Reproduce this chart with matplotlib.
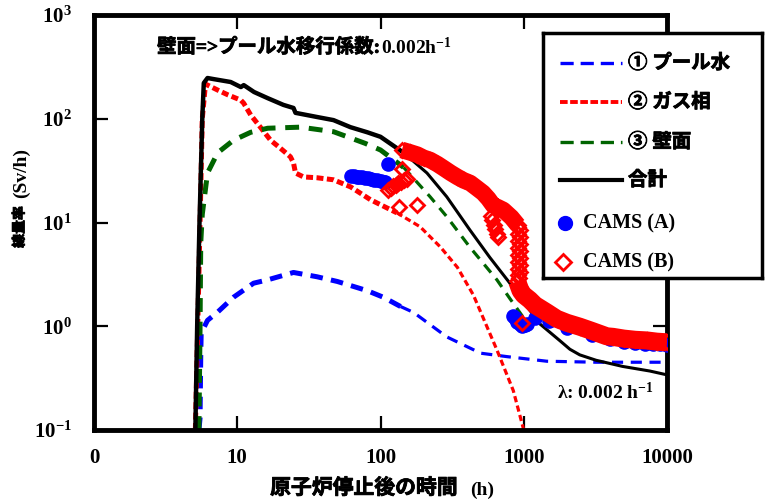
import numpy as np
import matplotlib
matplotlib.use('Agg')
import matplotlib.pyplot as plt
import matplotlib.patheffects as pe

plt.rcParams['font.family'] = ['Liberation Serif', 'Noto Sans CJK JP']
plt.rcParams['font.weight'] = 'bold'
plt.rcParams['mathtext.fontset'] = 'custom'
plt.rcParams['mathtext.rm'] = 'Liberation Serif:bold'
plt.rcParams['mathtext.bf'] = 'Liberation Serif:bold'
plt.rcParams['mathtext.it'] = 'Liberation Serif:bold:italic'
plt.rcParams['mathtext.default'] = 'rm'
plt.rcParams['lines.scale_dashes'] = False

# 計算値 (時間 h, 線量率 Sv/h)
t_pool = [5.4, 5.5, 5.56, 5.6, 6.2, 7.3, 9.4, 13.0, 16.3, 24.7, 36, 50, 81, 105, 138, 170, 290, 500, 760, 1450, 3200, 10000]
d_pool = [0.1, 0.13, 0.5, 0.86, 1.14, 1.37, 1.9, 2.6, 2.8, 3.3, 3.0, 2.7, 2.2, 1.9, 1.55, 1.36, 0.79, 0.55, 0.51, 0.46, 0.45, 0.45]

t_gas = [5.1, 5.3, 5.5, 5.7, 6.0, 7.3, 8.6, 10.6, 11.1, 12.4, 14.5, 17.1, 20, 23.5, 24.7, 25.5, 29, 36, 47, 62, 85, 130, 189, 262, 344, 445, 650, 845, 1000]
d_gas = [0.1, 1, 10, 100, 216, 189, 170, 151, 141, 109, 83, 62, 52, 43, 37.5, 30, 27.5, 27, 25.8, 22, 16.6, 12.4, 9.1, 5.8, 3.7, 2.0, 0.59, 0.24, 0.1]

t_wall = [5.4, 5.5, 5.56, 5.7, 6.2, 7.3, 9.4, 12.4, 16.3, 27.7, 47, 78, 100, 145, 222, 290, 420, 650, 800, 1000]
d_wall = [0.1, 1, 6.3, 12, 30, 47, 62, 74, 81, 83, 75, 58, 50, 34, 17.7, 11.4, 5.8, 2.8, 1.85, 1.2]

t_total = [5.1, 5.25, 5.45, 5.7, 5.84, 6.2, 6.85, 9.0, 10.6, 11.1, 13.1, 16.3, 21, 24.7, 25.5, 36, 47, 61.6, 81, 100,
           145, 211, 290, 420, 580, 800, 1100, 1300, 1800, 2100, 2460, 3200, 4900, 7600, 10000]
d_total = [0.1, 1, 10, 100, 221, 247, 241, 226, 202, 211, 181, 158, 136, 127, 114, 104, 97, 83, 74, 67,
           47, 30, 17.7, 8.5, 4.6, 2.6, 1.43, 1.05, 0.72, 0.6, 0.53, 0.47, 0.41, 0.37, 0.34]

# 測定値 CAMS (A)
camsA_t = [62, 65, 68, 71, 74, 78, 82, 86, 90, 95, 100, 105, 108, 112,
           840, 870, 900, 940, 980, 1020, 1060, 1200, 1500, 2000, 3000, 4000, 5000, 6000, 7000, 8000, 9000, 10000]
camsA_d = [28.0, 27.8, 27.6, 27.4, 27.2, 27.0, 26.6, 26.2, 25.8, 25.4, 25.0, 24.6, 24.4, 37,
           1.26, 1.2, 1.1, 1.05, 1.0, 1.02, 1.05, 1.2, 1.12, 0.96, 0.82, 0.75, 0.71, 0.69, 0.68, 0.67, 0.67, 0.66]

# 測定値 CAMS (B)
camsB_t = [113, 118, 123, 128, 133, 138, 145, 153, 141, 135, 181, 980]
camsB_d = [20.6, 21.5, 22.5, 23.2, 23.8, 24.5, 25.5, 26, 32.5, 14.1, 14.7, 1.08]
colB_t = [915, 945, 915, 945, 915, 945, 915, 945, 915, 945, 915, 945, 915, 945, 915, 930]
colB_d = [9.0, 8.4, 7.8, 7.2, 6.7, 6.2, 5.7, 5.3, 4.9, 4.5, 4.2, 3.9, 3.6, 3.35, 3.1, 2.9]
spurB_t = [590, 605, 620, 635, 650, 660]
spurB_d = [11.5, 10.5, 9.5, 8.6, 7.8, 7.2]
bandB1_t = [141, 160, 181, 200, 222, 250, 275, 310, 344, 380, 423, 470, 520, 565, 610, 660, 720, 820, 910]
bandB1_d = [50, 47.5, 45, 42, 40, 36.5, 33.5, 30, 27.5, 25.5, 24, 21.5, 19.3, 17, 14.7, 14, 13.2, 11.2, 9.4]
bandB2_t = [900, 950, 1000, 1100, 1200, 1450, 1700, 2000, 2460, 3000, 3800, 4200, 5000, 6000, 7200, 8500, 10000]
bandB2_d = [2.7, 2.2, 2.0, 1.8, 1.6, 1.36, 1.18, 1.08, 0.99, 0.9, 0.8, 0.79, 0.76, 0.74, 0.73, 0.71, 0.70]

xtick_vals = [1, 10, 100, 1000, 10000]
xtick_labels = ['0', '10', '100', '1000', '10000']
ytick_vals = [0.1, 1, 10, 100, 1000]
ytick_labels = [r'$10^{-1}$', r'$10^{0}$', r'$10^{1}$', r'$10^{2}$', r'$10^{3}$']

BLUE = '#0000ff'
RED = '#ff0000'
GREEN = '#006400'
heavy = [pe.withStroke(linewidth=0.6, foreground='black')]

W, H = 765, 499
fig = plt.figure(figsize=(W / 100, H / 100), dpi=100)
ax = fig.add_axes([94 / W, 1 - 430 / H, 573 / W, 415 / H])
ax.set_xscale('log')
ax.set_yscale('log')


def draw(t, d, color, dash_thick, dash_thin, split=120):
    t = np.array(t)
    d = np.array(d)
    i = np.searchsorted(t, split)
    kw = dict(color=color, zorder=2)
    if dash_thick is None:
        ax.plot(t[:i + 1], d[:i + 1], lw=3.2, **kw)
        ax.plot(t[i:], d[i:], lw=2.2, **kw)
    else:
        ax.plot(t[:i + 1], d[:i + 1], lw=3.6, dashes=dash_thick, **kw)
        ax.plot(t[i:], d[i:], lw=2.3, dashes=dash_thin, **kw)


draw(t_pool, d_pool, BLUE, (9, 6), (8, 5.5))
draw(t_gas, d_gas, RED, (5, 2.5), (4.5, 2.5))
draw(t_wall, d_wall, GREEN, (10, 7), (7.5, 5.5))
draw(t_total, d_total, 'black', None, None)

ax.plot(camsA_t, camsA_d, 'o', color=BLUE, ms=9.5, mec=BLUE, zorder=3)
ax.plot(bandB1_t, bandB1_d, '-', color=RED, lw=12, solid_capstyle='butt', zorder=4)
ax.plot(bandB2_t, bandB2_d, '-', color=RED, lw=13, solid_capstyle='butt', zorder=4)
for tt, dd in [(bandB1_t, bandB1_d), (bandB2_t, bandB2_d), (spurB_t, spurB_d),
               (colB_t, colB_d), (camsB_t, camsB_d)]:
    ax.plot(tt, dd, 'D', ms=7.5, mfc='none', mec=RED, mew=2, zorder=4)

ax.set_xlim(1, 10000)
ax.set_ylim(0.1, 1000)
ax.set_xticks(xtick_vals)
ax.set_xticklabels(xtick_labels)
ax.set_yticks(ytick_vals)
ax.set_yticklabels(ytick_labels)
ax.minorticks_off()
ax.tick_params(axis='both', which='major', direction='in', length=10, width=1.6,
               top=True, right=True, labelsize=15)
ax.tick_params(axis='x', pad=13)
ax.tick_params(axis='y', pad=16)
for s in ax.spines.values():
    s.set_linewidth(3.5)

# 軸ラベル
fig.text(458 / W, 1 - 489 / H, '原子炉停止後の時間', fontsize=15, va='center', ha='right',
         path_effects=heavy)
fig.text(470 / W, 1 - 490 / H, '(h)', fontsize=14, va='center', ha='left')
fig.text(20 / W, 1 - 227 / H, '線量率', fontsize=10, rotation=90, va='center', ha='center',
         path_effects=heavy)
fig.text(21 / W, 1 - 173 / H, '(Sv/h)', fontsize=14, rotation=90, va='center', ha='center')

t1 = fig.text(157 / W, 1 - 47 / H, '壁面=>プール水移行係数:', fontsize=14, va='center', ha='left',
              path_effects=heavy)
ax.annotate(r'0.002h$^{-1}$', xy=(1, 0.5), xycoords=t1, va='center', ha='left',
            fontsize=14, annotation_clip=False)
fig.text(557 / W, 1 - 393 / H, r'λ: 0.002 h$^{-1}$', fontsize=14, va='center', ha='left')

# 凡例
lax = fig.add_axes([543 / W, 1 - 278 / H, 219 / W, 245 / H], zorder=5)
lax.set_xlim(0, 219)
lax.set_ylim(245, 0)
lax.set_xticks([])
lax.set_yticks([])
for s in lax.spines.values():
    s.set_linewidth(2.5)
rows = [30, 69, 109, 147, 190, 229]
lax.plot([17, 79], [rows[0]] * 2, color=BLUE, lw=2.4, dashes=(9.5, 5))
lax.plot([17, 79], [rows[1]] * 2, color=RED, lw=2.8, dashes=(5.5, 1.8))
lax.plot([17, 79], [rows[2]] * 2, color=GREEN, lw=2.4, dashes=(9.5, 5))
lax.plot([17, 79], [rows[3]] * 2, color='black', lw=3)
lax.plot([22], [rows[4]], 'o', color=BLUE, ms=10)
lax.plot([20], [rows[5]], 'D', ms=8, mfc='none', mec=RED, mew=2)
labels = ['① プール水', '② ガス相', '③ 壁面', '合計']
for r, lab in zip(rows[:4], labels):
    lax.text(85, r, lab, fontsize=14, va='center', ha='left', path_effects=heavy)
lax.text(40, rows[4], 'CAMS (A)', fontsize=14.5, va='center', ha='left')
lax.text(40, rows[5], 'CAMS (B)', fontsize=14.5, va='center', ha='left')

fig.savefig('out.png', dpi=100)
